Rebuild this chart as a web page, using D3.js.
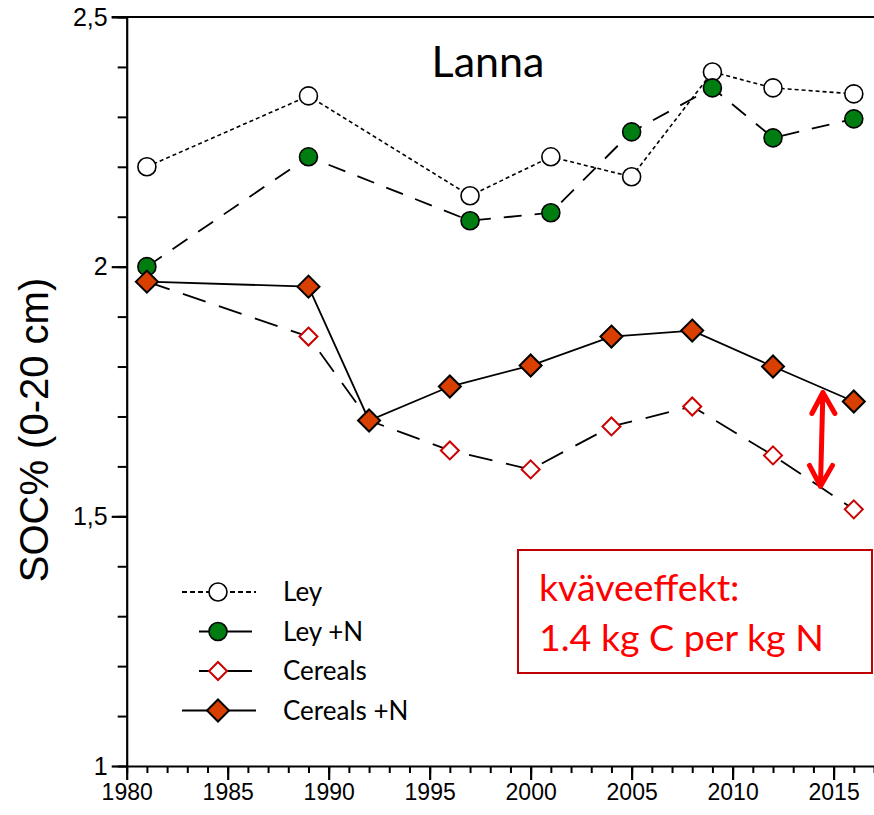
<!DOCTYPE html>
<html>
<head>
<meta charset="utf-8">
<script src="https://cdn.jsdelivr.net/npm/d3@7"></script>
<style>
    body { margin: 0; background: #fff; }
    svg { display: block; }
</style>
</head>
<body>
<svg id="chart" width="874" height="815"></svg>
<script>
// data
const leyYears = [1981, 1989, 1997, 2001, 2005, 2009, 2012, 2016];
const leyValues = [2.20, 2.342, 2.142, 2.22, 2.18, 2.39, 2.358, 2.346];
const leyNValues = [2.00, 2.22, 2.092, 2.108, 2.27, 2.358, 2.258, 2.296];
const cerealYears = [1981, 1989, 1992, 1996, 2000, 2004, 2008, 2012, 2016];
const cerealValues = [1.97, 1.86, 1.692, 1.632, 1.594, 1.68, 1.72, 1.622, 1.514];
const cerealNValues = [1.97, 1.96, 1.692, 1.76, 1.802, 1.86, 1.872, 1.80, 1.73];
const seriesNames = ["Ley", "Ley +N", "Cereals", "Cereals +N"];
const yTickValues = [1, 1.5, 2, 2.5];
const xTickValues = [1980, 1985, 1990, 1995, 2000, 2005, 2010, 2015];
const arrowYear = [2014.47, 2014.35];
const arrowValues = [1.748, 1.56];

const svg = d3.select("#chart");
const chartWidth = 874;
const plotLeft = 126.7, plotTop = 17, plotBottom = 766;

const x = d3.scaleLinear().domain([1980, 2017]).range([plotLeft, chartWidth]);
const y = d3.scaleLinear().domain([1, 2.5]).range([plotBottom, plotTop]);

const locale = d3.formatLocale({decimal: ",", thousands: " ", grouping: [3], currency: ["", ""]});
const yFmt = function (d) { return Number.isInteger(d) ? String(d) : locale.format(".1f")(d); };

const series = [
    {name: seriesNames[0], years: leyYears, values: leyValues, dash: "4,3", width: 1.6,
        shape: "circle", fill: "#fff", stroke: "#000"},
    {name: seriesNames[1], years: leyYears, values: leyNValues, dash: "18,13", width: 1.8,
        shape: "circle", fill: "#007d10", stroke: "#000"},
    {name: seriesNames[2], years: cerealYears, values: cerealValues, dash: "24,14", width: 1.8,
        shape: "diamond", fill: "#fff", stroke: "#cc0000"},
    {name: seriesNames[3], years: cerealYears, values: cerealNValues, dash: null, width: 1.8,
        shape: "diamond", fill: "#d94000", stroke: "#000"}
];

// axes: minor ticks first, then major with labels
svg.append("g")
    .attr("transform", "translate(" + plotLeft + ",0)")
    .call(d3.axisLeft(y).tickValues(d3.range(10, 26).map(d => d / 10)).tickSize(9).tickFormat(""))
    .call(g => g.select(".domain").remove())
    .selectAll("line").attr("stroke", "#000").attr("stroke-width", 2);

svg.append("g")
    .attr("transform", "translate(" + plotLeft + ",0)")
    .call(d3.axisLeft(y).tickValues(yTickValues).tickSize(15).tickSizeOuter(0).tickFormat(yFmt).tickPadding(4))
    .call(g => g.select(".domain").attr("stroke-width", 2.2))
    .call(g => g.selectAll("line").attr("stroke-width", 2.2))
    .call(g => g.selectAll("text")
        .attr("font-family", "Liberation Sans, Arial, sans-serif")
        .attr("font-size", 25)
        .attr("fill", "#000"));

svg.append("g")
    .attr("transform", "translate(0," + plotBottom + ")")
    .call(d3.axisBottom(x).tickValues(d3.range(1980, 2018)).tickSize(7).tickFormat(""))
    .call(g => g.select(".domain").remove())
    .selectAll("line").attr("stroke", "#000").attr("stroke-width", 2);

svg.append("g")
    .attr("transform", "translate(0," + plotBottom + ")")
    .call(d3.axisBottom(x).tickValues(xTickValues).tickSize(14).tickSizeOuter(0).tickFormat(d3.format("d")).tickPadding(4))
    .call(g => g.select(".domain").attr("stroke-width", 2.2))
    .call(g => g.selectAll("line").attr("stroke-width", 2.2))
    .call(g => g.selectAll("text")
        .attr("font-family", "Liberation Sans, Arial, sans-serif")
        .attr("font-size", 23)
        .attr("fill", "#000"));

// top frame line
svg.append("line")
    .attr("x1", plotLeft - 15).attr("x2", chartWidth)
    .attr("y1", y(2.5)).attr("y2", y(2.5))
    .attr("stroke", "#000").attr("stroke-width", 2.2);

svg.append("text")
    .attr("transform", "translate(48,430) rotate(-90)")
    .attr("text-anchor", "middle")
    .attr("font-family", "Liberation Sans, Arial, sans-serif")
    .attr("font-size", 40)
    .text("SOC% (0-20 cm)");

svg.append("text")
    .attr("x", 488).attr("y", 77)
    .attr("text-anchor", "middle")
    .attr("font-family", "Lato, sans-serif")
    .attr("font-size", 43)
    .text("Lanna");

function drawMarker(sel, s, size) {
    if (s.shape === "circle") {
        sel.append("circle").attr("r", size)
            .attr("fill", s.fill).attr("stroke", s.stroke).attr("stroke-width", 1.6);
    } else {
        const r = s.fill === "#fff" ? size : size + 2;
        sel.append("path").attr("d", "M0," + (-r) + "L" + r + ",0L0," + r + "L" + (-r) + ",0Z")
            .attr("fill", s.fill).attr("stroke", s.stroke).attr("stroke-width", 2);
    }
}

const line = d3.line().x(d => x(d[0])).y(d => y(d[1]));

series.forEach(function (s) {
    const pts = s.years.map((yr, i) => [yr, s.values[i]]);
    const g = svg.append("g").attr("class", "series");
    g.append("path")
        .attr("d", line(pts))
        .attr("fill", "none")
        .attr("stroke", "#000")
        .attr("stroke-width", s.width)
        .attr("stroke-dasharray", s.dash);
    g.selectAll("g.pt")
        .data(pts)
        .enter().append("g")
        .attr("class", "pt")
        .attr("transform", d => "translate(" + x(d[0]) + "," + y(d[1]) + ")")
        .each(function () { drawMarker(d3.select(this), s, 9); });
});

// legend
const legendRows = [
    {x1: 182, x2: 256, dash: "5,3"},
    {x1: 199, x2: 252, dash: null},
    {x1: 199, x2: 252, dash: null},
    {x1: 182, x2: 256, dash: null}
];
const legend = svg.append("g").attr("class", "legend");
series.forEach(function (s, i) {
    const row = legend.append("g").attr("transform", "translate(0," + (592 + i * 39.5) + ")");
    row.append("line")
        .attr("x1", legendRows[i].x1).attr("x2", legendRows[i].x2)
        .attr("stroke", "#000").attr("stroke-width", 1.8)
        .attr("stroke-dasharray", legendRows[i].dash);
    drawMarker(row.append("g").attr("transform", "translate(218,0)"), s, 9);
    row.append("text")
        .attr("x", 283).attr("y", 9)
        .attr("font-family", "Lato, sans-serif")
        .attr("font-size", 26)
        .text(s.name);
});

// nitrogen effect annotation
svg.append("rect")
    .attr("x", 518).attr("y", 550).attr("width", 354).attr("height", 123)
    .attr("fill", "#fff").attr("stroke", "#c00000").attr("stroke-width", 2);
const note = svg.append("text")
    .attr("font-family", "Lato, sans-serif")
    .attr("font-size", 37.5)
    .attr("fill", "#ff0000");
note.append("tspan").attr("x", 539).attr("y", 601).text("kväveeffekt:");
note.append("tspan").attr("x", 539).attr("y", 651).text("1.4 kg C per kg N");

const ax1 = x(arrowYear[0]), ay1 = y(arrowValues[0]);
const ax2 = x(arrowYear[1]), ay2 = y(arrowValues[1]);
svg.append("path")
    .attr("d", "M" + ax1 + "," + ay1 + "L" + ax2 + "," + ay2 +
        "M" + (ax1 - 11) + "," + (ay1 + 21) + "L" + ax1 + "," + ay1 + "L" + (ax1 + 12) + "," + (ay1 + 21) +
        "M" + (ax2 - 11) + "," + (ay2 - 21) + "L" + ax2 + "," + ay2 + "L" + (ax2 + 12) + "," + (ay2 - 21))
    .attr("fill", "none")
    .attr("stroke", "#ff0000")
    .attr("stroke-width", 5)
    .attr("stroke-linecap", "round")
    .attr("stroke-linejoin", "round");
</script>
</body>
</html>
